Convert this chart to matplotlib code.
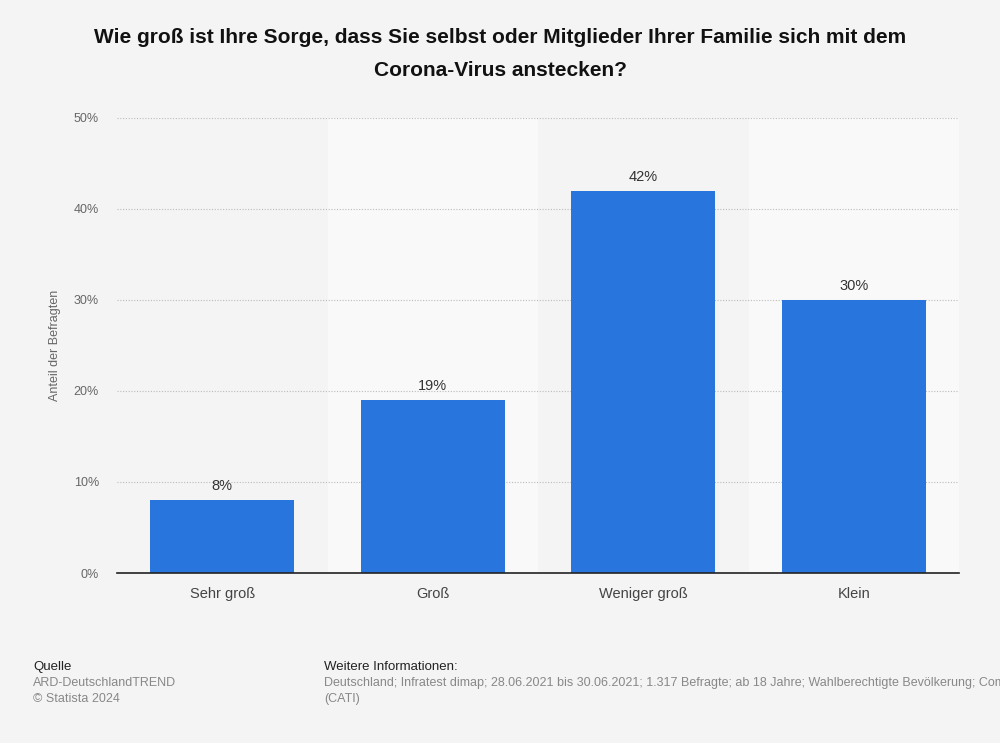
import matplotlib
matplotlib.use("Agg")
import matplotlib.pyplot as plt
from matplotlib.ticker import FuncFormatter

categories = ["Sehr groß", "Groß", "Weniger groß", "Klein"]
values = [8, 19, 42, 30]
yticks = [0, 10, 20, 30, 40, 50]

plt.rcParams['font.family'] = ['Liberation Sans', 'DejaVu Sans']

fig = plt.figure(figsize=(10, 7.43), dpi=100)
fig.patch.set_facecolor('#f4f4f4')
ax = fig.add_axes([0.117, 0.2288, 0.842, 0.6124])
ax.set_facecolor('#f4f4f4')

x = list(range(len(categories)))
for i in x:
    if i % 2 == 1:
        ax.axvspan(i - 0.5, i + 0.5, color='#f9f9f9', zorder=0, lw=0)

bars = ax.bar(x, values, width=0.685, color='#2876dd', zorder=3)
for xi, v in zip(x, values):
    ax.text(xi, v + 0.8, f"{v}%", ha='center', va='bottom', fontsize=10.5, color='#333333', zorder=4)

ax.set_xlim(-0.5, len(categories) - 0.5)
ax.set_ylim(0, 50)
ax.set_yticks(yticks)
ax.yaxis.set_major_formatter(FuncFormatter(lambda v, p: f"{int(v)}%"))
ax.grid(axis='y', linestyle=(0, (1, 1.5)), color='#bbbbbb', linewidth=0.8, zorder=1)
ax.set_axisbelow(True)
for s in ['top', 'right', 'left']:
    ax.spines[s].set_visible(False)
ax.spines['bottom'].set_color('#222222')
ax.spines['bottom'].set_linewidth(1.2)
ax.spines['bottom'].set_zorder(5)
ax.tick_params(axis='y', length=0, labelsize=9, labelcolor='#666666', pad=13)
ax.tick_params(axis='x', length=0, labelsize=10.5, labelcolor='#444444', pad=10)
ax.set_xticks(x)
ax.set_xticklabels(categories)
ax.set_ylabel("Anteil der Befragten", fontsize=9, color='#666666')
ax.yaxis.set_label_coords(-0.066, 0.5)

fig.text(0.5, 0.962, "Wie groß ist Ihre Sorge, dass Sie selbst oder Mitglieder Ihrer Familie sich mit dem\nCorona-Virus anstecken?",
         ha='center', va='top', fontsize=15.05, fontweight='bold', color='#111111', linespacing=1.93)

fs = 9.5
fs2 = 9
fig.text(0.033, 0.1025, "Quelle", fontsize=fs, color='#222222', va='center')
fig.text(0.033, 0.0805, "ARD-DeutschlandTREND", fontsize=fs2, color='#888888', va='center')
fig.text(0.033, 0.0590, "© Statista 2024", fontsize=fs2, color='#888888', va='center')
fig.text(0.324, 0.1025, "Weitere Informationen:", fontsize=fs, color='#222222', va='center')
fig.text(0.324, 0.0805, "Deutschland; Infratest dimap; 28.06.2021 bis 30.06.2021; 1.317 Befragte; ab 18 Jahre; Wahlberechtigte Bevölkerung; Computergestützte Telefoninterviews",
         fontsize=fs2, color='#888888', va='center')
fig.text(0.324, 0.0590, "(CATI)", fontsize=fs2, color='#888888', va='center')

fig.savefig("out.png", dpi=100, facecolor=fig.get_facecolor())
